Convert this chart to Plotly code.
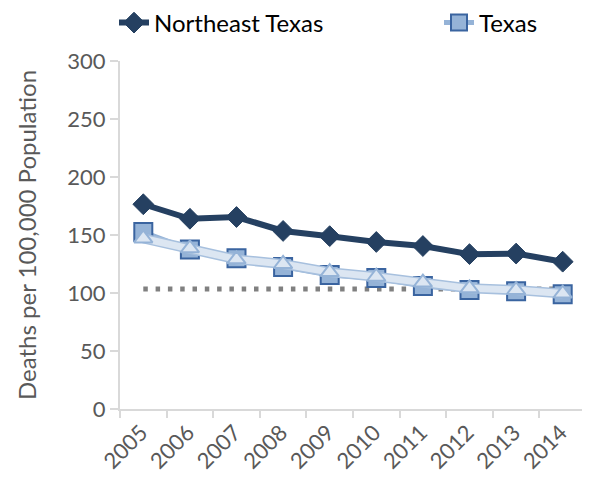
import plotly.graph_objects as go

years = ["2005", "2006", "2007", "2008", "2009", "2010", "2011", "2012", "2013", "2014"]
northeast_texas = [176.5, 164, 165.5, 153.5, 149, 144, 140.5, 133.5, 134, 127]
texas = [152.5, 137.5, 130, 122.5, 115.5, 113, 106, 102.5, 101.5, 99]
third_series = [147, 138.5, 129, 125, 118, 114, 109, 104, 102.5, 99.5]
target = [103.4] * len(years)
y_ticks = [0, 50, 100, 150, 200, 250, 300]

FONT = "Lato"
GREY_TXT = "#595959"
AXIS = "#d9d9d9"
W, H = 582, 475  # page has 8px body margin

fig = go.Figure()

# target dotted line
fig.add_trace(go.Scatter(x=years, y=target, mode="lines",
                         line=dict(color="#808080", width=5, dash="4.5px,7.8px"),
                         showlegend=False, hoverinfo="skip"))

# Texas squares
fig.add_trace(go.Scatter(x=years, y=texas, mode="lines+markers", name="Texas",
                         line=dict(color="#95b3d7", width=5),
                         marker=dict(symbol="square", size=18, color="#95b3d7",
                                     line=dict(color="#3a64a0", width=2)),
                         legend="legend2"))

# third series (triangles) - outline band then inner band
fig.add_trace(go.Scatter(x=years, y=third_series, mode="lines",
                         line=dict(color="#a7c0de", width=10),
                         showlegend=False, hoverinfo="skip"))
fig.add_trace(go.Scatter(x=years, y=third_series, mode="lines+markers",
                         line=dict(color="#dce6f2", width=7),
                         marker=dict(symbol="triangle-up", size=16, color="#dce6f2",
                                     line=dict(color="#95b3d7", width=2)),
                         showlegend=False))

# Northeast Texas diamonds
fig.add_trace(go.Scatter(x=years, y=northeast_texas, mode="lines+markers",
                         name="Northeast Texas",
                         line=dict(color="#254061", width=6),
                         marker=dict(symbol="diamond", size=16, color="#254061",
                                     line=dict(color="#254061", width=1)),
                         legend="legend"))

leg_common = dict(orientation="h", xref="container", yref="container",
                  xanchor="left", y=1 - 15 / H, yanchor="middle",
                  font=dict(family=FONT, size=24, color="#000000"),
                  bgcolor="rgba(0,0,0,0)")

fig.update_layout(
    width=W, height=H,
    margin=dict(l=112, r=4, t=53, b=74),
    paper_bgcolor="white", plot_bgcolor="white",
    font=dict(family=FONT, color=GREY_TXT, size=22),
    legend=dict(x=106 / W, **leg_common),
    legend2=dict(x=431 / W, **leg_common),
    xaxis=dict(type="category", range=[-0.5, len(years) - 0.5],
               tickson="boundaries", showline=True, linecolor=AXIS,
               linewidth=2, ticks="outside", ticklen=7, tickcolor=AXIS, tickwidth=2,
               tickangle=-45, showgrid=False, zeroline=False, automargin=False,
               ticklabelshift=-2,
               tickfont=dict(family=FONT, size=22, color=GREY_TXT)),
    yaxis=dict(range=[0, 300], tickvals=y_ticks, showline=True, linecolor=AXIS,
               linewidth=2, ticks="outside", ticklen=8, tickcolor=AXIS, tickwidth=2,
               showgrid=False, zeroline=False, automargin=False,
               tickfont=dict(family=FONT, size=22, color=GREY_TXT),
               title=dict(text="Deaths per 100,000 Population", standoff=24,
                          font=dict(family=FONT, size=24, color=GREY_TXT))),
)

fig.write_html("out.html")
